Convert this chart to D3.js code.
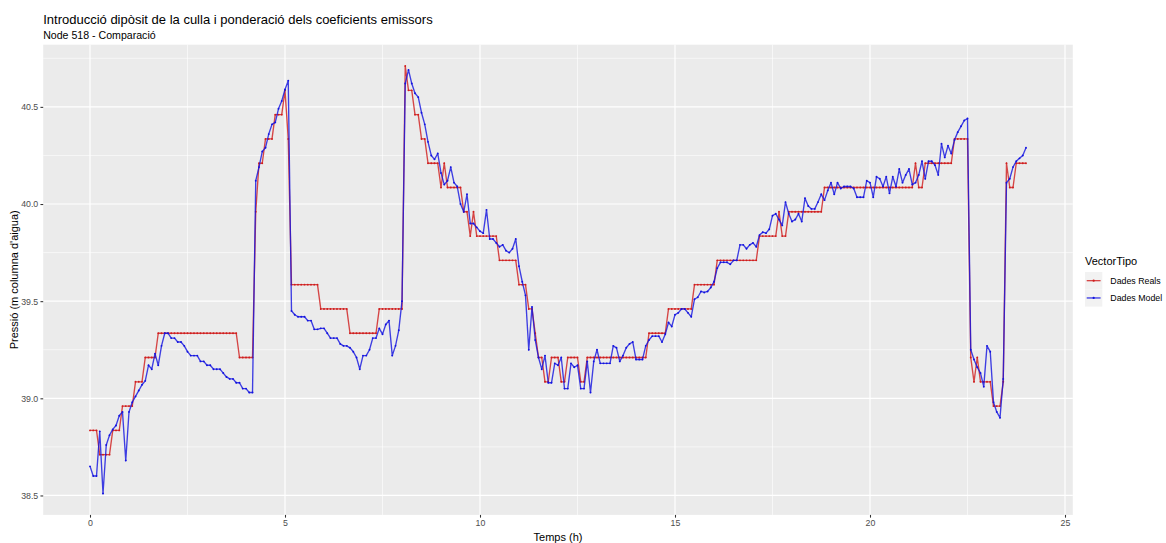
<!DOCTYPE html>
<html>
<head>
<meta charset="utf-8">
<script src="https://cdn.jsdelivr.net/npm/d3@7"></script>
<style>
  html, body { margin: 0; padding: 0; background: #ffffff; }
  svg { display: block; font-family: "Liberation Sans", Arial, sans-serif; }
</style>
</head>
<body>
<svg id="chart" width="1166" height="543"></svg>
<script>
// Node 518: measured pressure vs. model pressure, one sample every 5 minutes over 24 h
const samplesPerHour = 12;

// Measured pressure (m water column), one row per hour
const dadesReals = [
  38.835,38.835,38.835,38.71,38.71,38.71,38.71,38.835,38.835,38.835,38.96,38.96,
  38.96,38.96,39.085,39.085,39.085,39.21,39.21,39.21,39.21,39.335,39.335,39.335,
  39.335,39.335,39.335,39.335,39.335,39.335,39.335,39.335,39.335,39.335,39.335,39.335,
  39.335,39.335,39.335,39.335,39.335,39.335,39.335,39.335,39.335,39.335,39.21,39.21,
  39.21,39.21,39.21,39.96,40.21,40.21,40.335,40.335,40.335,40.46,40.46,40.46,
  40.585,40.335,39.585,39.585,39.585,39.585,39.585,39.585,39.585,39.585,39.585,39.46,
  39.46,39.46,39.46,39.46,39.46,39.46,39.46,39.46,39.335,39.335,39.335,39.335,
  39.335,39.335,39.335,39.335,39.335,39.46,39.46,39.46,39.46,39.46,39.46,39.46,
  39.46,40.71,40.585,40.585,40.46,40.46,40.335,40.335,40.21,40.21,40.21,40.21,
  40.085,40.21,40.085,40.085,40.085,40.085,40.085,39.96,39.96,39.835,39.96,39.835,
  39.835,39.835,39.835,39.835,39.835,39.835,39.71,39.71,39.71,39.71,39.71,39.71,
  39.585,39.585,39.585,39.46,39.46,39.335,39.21,39.21,39.085,39.085,39.21,39.21,
  39.21,39.085,39.085,39.21,39.21,39.21,39.21,39.085,39.085,39.21,39.21,39.21,
  39.21,39.21,39.21,39.21,39.21,39.21,39.21,39.21,39.21,39.21,39.21,39.21,
  39.21,39.21,39.21,39.21,39.335,39.335,39.335,39.335,39.335,39.335,39.46,39.46,
  39.46,39.46,39.46,39.46,39.46,39.46,39.585,39.585,39.585,39.585,39.585,39.585,
  39.585,39.71,39.71,39.71,39.71,39.71,39.71,39.71,39.71,39.71,39.71,39.71,
  39.71,39.71,39.835,39.835,39.835,39.835,39.835,39.835,39.96,39.835,39.835,39.96,
  39.96,39.96,39.96,39.96,39.96,39.96,39.96,39.96,39.96,39.96,40.085,40.085,
  40.085,40.085,40.085,40.085,40.085,40.085,40.085,40.085,40.085,40.085,40.085,40.085,
  40.085,40.085,40.085,40.085,40.085,40.085,40.085,40.085,40.085,40.085,40.085,40.085,
  40.085,40.085,40.21,40.085,40.085,40.21,40.21,40.21,40.21,40.21,40.21,40.21,
  40.21,40.21,40.335,40.335,40.335,40.335,40.335,39.21,39.085,39.21,39.085,39.085,
  39.085,39.085,38.96,38.96,38.96,39.085,40.21,40.085,40.085,40.21,40.21,40.21,
  40.21
];

// Model pressure (m water column), one row per hour
const dadesModel = [
  38.65,38.60,38.60,38.83,38.51,38.76,38.81,38.84,38.86,38.91,38.93,38.68,
  38.93,38.98,39.01,39.04,39.07,39.09,39.17,39.15,39.23,39.17,39.27,39.335,
  39.335,39.31,39.31,39.29,39.29,39.27,39.24,39.22,39.22,39.22,39.19,39.19,
  39.17,39.17,39.15,39.15,39.15,39.13,39.11,39.10,39.10,39.08,39.08,39.05,
  39.05,39.03,39.03,40.12,40.19,40.27,40.29,40.36,40.41,40.42,40.49,40.53,
  40.59,40.635,39.45,39.43,39.42,39.42,39.42,39.40,39.40,39.355,39.355,39.36,
  39.36,39.335,39.31,39.31,39.31,39.28,39.27,39.27,39.26,39.24,39.21,39.15,
  39.22,39.22,39.25,39.31,39.31,39.36,39.33,39.38,39.40,39.22,39.27,39.35,
  39.50,40.62,40.69,40.62,40.57,40.55,40.47,40.41,40.32,40.25,40.23,40.26,
  40.16,40.10,40.12,40.19,40.11,40.09,40.00,39.96,40.05,39.90,39.90,39.88,
  39.86,39.85,39.97,39.82,39.82,39.80,39.78,39.79,39.76,39.75,39.77,39.82,
  39.68,39.60,39.53,39.25,39.47,39.30,39.21,39.15,39.22,39.08,39.08,39.18,
  39.17,39.21,39.05,39.05,39.18,39.16,39.17,39.05,39.05,39.19,39.03,39.19,
  39.25,39.18,39.18,39.18,39.18,39.27,39.26,39.19,39.22,39.26,39.28,39.29,
  39.20,39.20,39.20,39.27,39.30,39.32,39.32,39.32,39.29,39.33,39.39,39.37,
  39.43,39.44,39.46,39.46,39.44,39.42,39.51,39.52,39.55,39.545,39.55,39.57,
  39.60,39.67,39.70,39.70,39.70,39.69,39.71,39.71,39.79,39.79,39.77,39.79,
  39.80,39.78,39.84,39.855,39.85,39.87,39.94,39.95,39.92,39.89,40.01,39.95,
  39.91,39.92,39.95,39.91,40.03,39.99,39.975,39.975,40.01,40.05,40.02,40.07,
  40.11,40.05,40.11,40.08,40.09,40.09,40.09,40.08,40.035,40.035,40.035,40.12,
  40.11,40.035,40.14,40.13,40.09,40.14,40.055,40.14,40.09,40.18,40.11,40.15,
  40.18,40.10,40.11,40.15,40.22,40.13,40.22,40.22,40.20,40.15,40.31,40.24,
  40.30,40.26,40.33,40.37,40.40,40.43,40.44,39.25,39.20,39.16,39.13,39.06,
  39.27,39.24,38.98,38.93,38.90,39.10,40.11,40.13,40.19,40.22,40.235,40.25,
  40.29
];

const seriesNames = ["Dades Reals", "Dades Model"];
const xTickValues = [0, 5, 10, 15, 20, 25];
const yTickValues = [38.5, 39.0, 39.5, 40.0, 40.5];

const titleText = "Introducció dipòsit de la culla i ponderació dels coeficients emissors";
const subtitleText = "Node 518 - Comparació";
const xTitle = "Temps (h)";
const yTitle = "Pressió (m columna d'aigua)";
const legendTitle = "VectorTipo";

// ---------- layout ----------
const W = 1166, H = 543;
const panel = { left: 43.2, right: 1072.8, top: 44.7, bottom: 514.9 };
const colors = { "Dades Reals": "#d01c1c", "Dades Model": "#1212e0" };

const hours = dadesReals.map((_, i) => i / samplesPerHour);
const series = seriesNames.map(name => ({
  name,
  values: (name === "Dades Reals" ? dadesReals : dadesModel).map((v, i) => ({ t: hours[i], v }))
}));

// ggplot-style 5% expansion of the data range
function expand([a, b], f = 0.05) { const d = (b - a) * f; return [a - d, b + d]; }
const xDomain = expand(d3.extent(hours));
const yDomain = expand(d3.extent([...dadesReals, ...dadesModel]));

const x = d3.scaleLinear().domain(xDomain).range([panel.left, panel.right]);
const y = d3.scaleLinear().domain(yDomain).range([panel.bottom, panel.top]);

const svg = d3.select("#chart");
svg.append("rect").attr("width", W).attr("height", H).attr("fill", "#ffffff");

// panel background
svg.append("rect")
  .attr("x", panel.left).attr("y", panel.top)
  .attr("width", panel.right - panel.left).attr("height", panel.bottom - panel.top)
  .attr("fill", "#ebebeb");

// minor breaks halfway between major breaks (and beyond, when inside the panel)
function minorBreaks(ticks, domain) {
  const step = ticks[1] - ticks[0];
  const out = [];
  for (let v = ticks[0] - step / 2; v <= domain[1]; v += step) {
    if (v >= domain[0] && v <= domain[1]) out.push(v);
  }
  return out;
}
const grid = svg.append("g").attr("class", "grid");
grid.selectAll("line.xminor").data(minorBreaks(xTickValues, xDomain)).join("line")
  .attr("x1", d => x(d)).attr("x2", d => x(d)).attr("y1", panel.top).attr("y2", panel.bottom)
  .attr("stroke", "#ffffff").attr("stroke-width", 0.6);
grid.selectAll("line.yminor").data(minorBreaks(yTickValues, yDomain)).join("line")
  .attr("y1", d => y(d)).attr("y2", d => y(d)).attr("x1", panel.left).attr("x2", panel.right)
  .attr("stroke", "#ffffff").attr("stroke-width", 0.6);
grid.selectAll("line.xmajor").data(xTickValues).join("line")
  .attr("x1", d => x(d)).attr("x2", d => x(d)).attr("y1", panel.top).attr("y2", panel.bottom)
  .attr("stroke", "#ffffff").attr("stroke-width", 1.2);
grid.selectAll("line.ymajor").data(yTickValues).join("line")
  .attr("y1", d => y(d)).attr("y2", d => y(d)).attr("x1", panel.left).attr("x2", panel.right)
  .attr("stroke", "#ffffff").attr("stroke-width", 1.2);

// series
const line = d3.line().x(d => x(d.t)).y(d => y(d.v));
const plot = svg.append("g").attr("class", "series");
series.forEach(s => {
  plot.append("path")
    .datum(s.values)
    .attr("d", line)
    .attr("fill", "none")
    .attr("stroke", colors[s.name])
    .attr("stroke-width", 1.35)
    .attr("stroke-opacity", 0.8)
    .attr("stroke-linejoin", "round");
  plot.append("g").selectAll("circle").data(s.values).join("circle")
    .attr("cx", d => x(d.t)).attr("cy", d => y(d.v)).attr("r", 0.95)
    .attr("fill", colors[s.name]);
});

// axes
const axisColor = "#333333", tickTextColor = "#4d4d4d";
const xAxis = svg.append("g").attr("transform", `translate(0,${panel.bottom})`)
  .call(d3.axisBottom(x).tickValues(xTickValues).tickFormat(d3.format("d")).tickSize(2.75).tickPadding(2.2));
const yAxis = svg.append("g").attr("transform", `translate(${panel.left},0)`)
  .call(d3.axisLeft(y).tickValues(yTickValues).tickFormat(d3.format(".1f")).tickSize(2.75).tickPadding(2.2));
[xAxis, yAxis].forEach(a => {
  a.select(".domain").remove();
  a.selectAll(".tick line").attr("stroke", axisColor).attr("stroke-width", 1.07);
  a.selectAll(".tick text").attr("fill", tickTextColor)
    .style("font-family", "'Liberation Sans', Arial, sans-serif").style("font-size", "8.8px");
});

// axis titles
svg.append("text")
  .attr("x", (panel.left + panel.right) / 2).attr("y", 541)
  .attr("text-anchor", "middle").attr("fill", "#000").style("font-size", "11px")
  .text(xTitle);
svg.append("text")
  .attr("transform", `translate(17.5,${(panel.top + panel.bottom) / 2}) rotate(-90)`)
  .attr("text-anchor", "middle").attr("fill", "#000").style("font-size", "11px")
  .text(yTitle);

// titles
svg.append("text").attr("x", panel.left).attr("y", 23.5)
  .attr("fill", "#000").style("font-size", "13px").text(titleText);
svg.append("text").attr("x", panel.left).attr("y", 38.5)
  .attr("fill", "#000").style("font-size", "10.6px").text(subtitleText);

// legend
const legend = svg.append("g").attr("transform", "translate(1085,255)");
legend.append("text").attr("x", 0).attr("y", 10).attr("fill", "#000")
  .style("font-size", "11px").text(legendTitle);
const keySize = 17.3;
const item = legend.selectAll("g.item").data(seriesNames).join("g")
  .attr("transform", (d, i) => `translate(0,${17 + i * keySize})`);
item.append("rect").attr("width", keySize).attr("height", keySize).attr("fill", "#f2f2f2");
item.append("line")
  .attr("x1", 1.7).attr("x2", keySize - 1.7).attr("y1", keySize / 2).attr("y2", keySize / 2)
  .attr("stroke", d => colors[d]).attr("stroke-width", 1.35).attr("stroke-opacity", 0.8);
item.append("circle").attr("cx", keySize / 2).attr("cy", keySize / 2).attr("r", 1.1)
  .attr("fill", d => colors[d]);
item.append("text").attr("x", keySize + 8).attr("y", keySize / 2 + 3.1)
  .attr("fill", "#000").style("font-size", "8.8px").text(d => d);
</script>
</body>
</html>
